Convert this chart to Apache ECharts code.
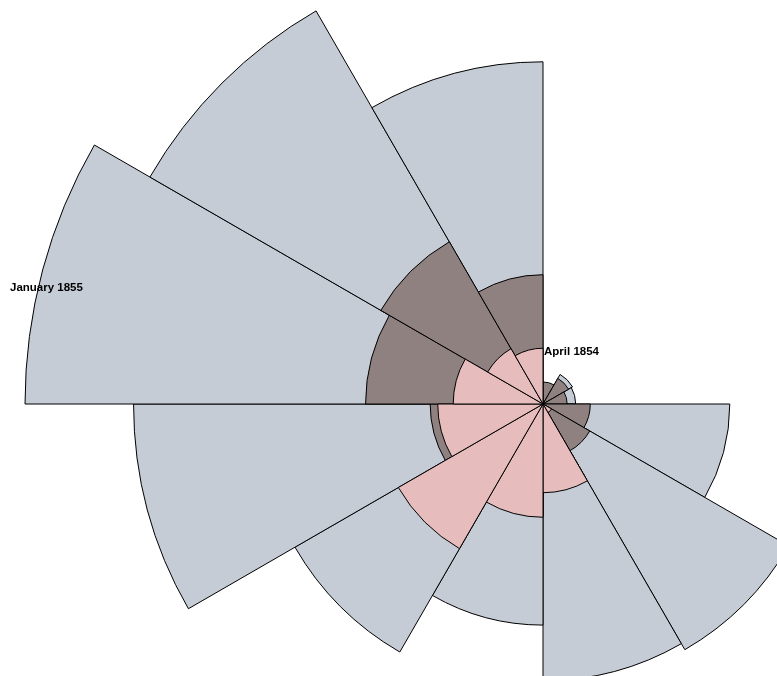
<!DOCTYPE html>
<html>
<head>
<meta charset="utf-8">
<style>html,body{margin:0;padding:0;background:#fff}#c{width:777px;height:676px}</style>
<script src="https://cdn.jsdelivr.net/npm/echarts@6/dist/echarts.min.js"></script>
</head>
<body>
<div id="c"></div>
<script>
const months = ['April 1854','May 1854','June 1854','July 1854','August 1854','September 1854','October 1854','November 1854','December 1854','January 1855','February 1855','March 1855'];
const disease = [1, 12, 11, 359, 828, 788, 503, 844, 1725, 2761, 2120, 1205];
const wounds  = [0, 0, 0, 0, 1, 81, 132, 287, 114, 83, 42, 32];
const other   = [5, 9, 6, 23, 30, 70, 128, 106, 131, 324, 361, 172];
const shownLabels = ['April 1854', 'January 1855'];

// radius encodes sqrt(deaths) so that wedge area is proportional to count
const toR = arr => arr.map(v => Math.sqrt(v));

const chart = echarts.init(document.getElementById('c'), null, {renderer: 'canvas'});
const barCommon = {
  type: 'bar',
  coordinateSystem: 'polar',
  barGap: '-100%',
  barCategoryGap: '0%',
  emphasis: {disabled: true},
  animation: false
};
chart.setOption({
  animation: false,
  polar: {center: [543, 404], radius: 518},
  angleAxis: {
    type: 'category', data: months, startAngle: 90, clockwise: true,
    axisLine: {show: false}, axisTick: {show: false}, axisLabel: {show: false}, splitLine: {show: false}
  },
  radiusAxis: {
    type: 'value', min: 0, max: Math.sqrt(Math.max(...disease)),
    axisLine: {show: false}, axisTick: {show: false}, axisLabel: {show: false}, splitLine: {show: false}
  },
  series: [
    Object.assign({}, barCommon, {name: 'Disease', data: toR(disease), itemStyle: {color: '#c5ccd6', borderColor: '#000', borderWidth: 1}}),
    Object.assign({}, barCommon, {name: 'Other', data: toR(other), itemStyle: {color: '#8f8180', borderColor: '#000', borderWidth: 1}}),
    Object.assign({}, barCommon, {name: 'Wounds', data: toR(wounds), itemStyle: {color: '#e6bdbc', borderColor: '#000', borderWidth: 1}})
  ],
  graphic: [
    {type: 'text', z: 100, zlevel: 1, left: 544, top: 346, style: {text: shownLabels[0], font: 'bold 11.5px "Liberation Sans", Arial, sans-serif', fill: '#000'}},
    {type: 'text', z: 100, zlevel: 1, left: 10, top: 282, style: {text: shownLabels[1], font: 'bold 11.5px "Liberation Sans", Arial, sans-serif', fill: '#000'}}
  ]
});
</script>
</body>
</html>
